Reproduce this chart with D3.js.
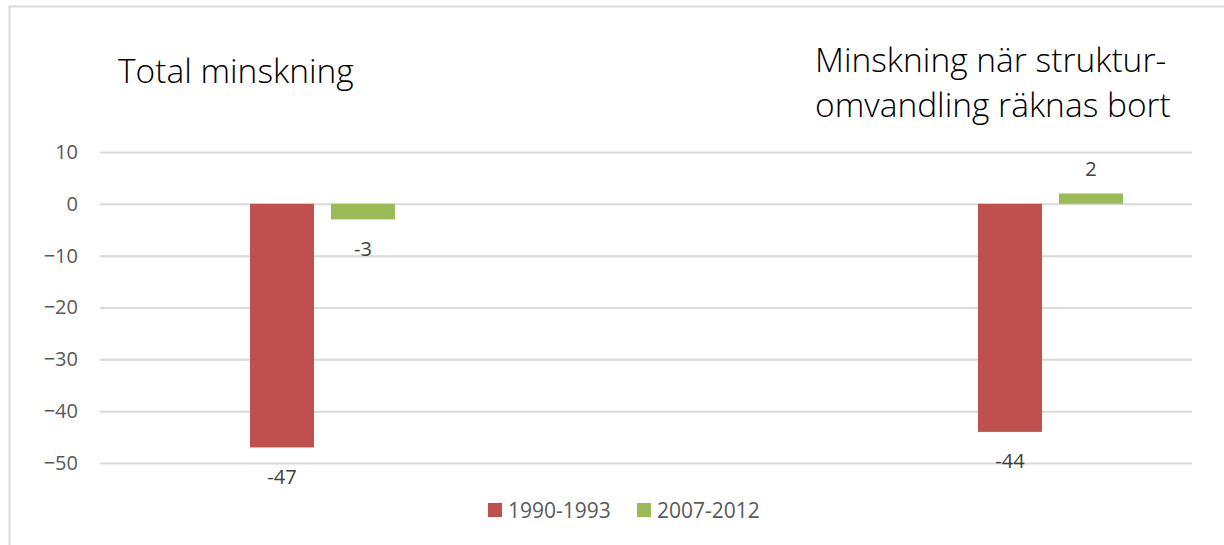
<!DOCTYPE html>
<html>
<head>
<meta charset="utf-8">
<script src="https://cdn.jsdelivr.net/npm/d3@7/dist/d3.min.js"></script>
<style>
  html, body { margin: 0; padding: 0; background: #fff; }
  svg { display: block; font-family: "Open Sans", "Noto Sans", sans-serif; }
</style>
</head>
<body>
<svg id="chart" width="1224" height="545"></svg>
<script>
// Category titles (each drawn above its bar group), series and axis ticks
const categories = ["Total minskning", "Minskning när struktur-\nomvandling räknas bort"];
const seriesNames = ["1990-1993", "2007-2012"];
const seriesColors = ["#C0504D", "#9BBB59"];
const values1990 = [-47, -44];
const values2007 = [-3, 2];
const yTicks = [10, 0, -10, -20, -30, -40, -50];

const svg = d3.select("#chart");
const W = 1224, H = 545;

// chart frame
svg.append("rect")
  .attr("x", 9.5).attr("y", 6.5)
  .attr("width", W).attr("height", H)
  .attr("fill", "#fff").attr("stroke", "#d9d9d9").attr("stroke-width", 2);

const plot = { left: 100, right: 1192 };

const y = d3.scaleLinear().domain([-50, 10]).range([463, 152]);

// group centres and series offsets within a group
const x0 = d3.scalePoint().domain(categories).range([322.5, 1050.5]);
const x1 = d3.scaleBand().domain(seriesNames).range([-72.5, 72.5]).paddingInner(0.21);

// gridlines + tick labels
const yAxis = d3.axisLeft(y)
  .tickValues(yTicks)
  .tickSize(-(plot.right - plot.left))
  .tickPadding(22)
  .tickFormat(d3.format("d"));

const gAxis = svg.append("g")
  .attr("transform", `translate(${plot.left},0)`)
  .call(yAxis);
gAxis.select(".domain").remove();
gAxis.selectAll(".tick line").attr("stroke", "#d9d9d9").attr("stroke-width", 2);
gAxis.selectAll(".tick text")
  .attr("fill", "#595959")
  .style("font-size", "20px")
  .style("font-family", "'Open Sans', sans-serif");

// bars
const rows = categories.map((c, i) => ({
  cat: c,
  vals: [
    { s: seriesNames[0], v: values1990[i] },
    { s: seriesNames[1], v: values2007[i] }
  ]
}));

const groups = svg.append("g").selectAll("g")
  .data(rows).join("g")
  .attr("transform", d => `translate(${x0(d.cat)},0)`);

groups.selectAll("rect")
  .data(d => d.vals).join("rect")
  .attr("x", d => x1(d.s))
  .attr("width", x1.bandwidth())
  .attr("y", d => y(Math.max(0, d.v)))
  .attr("height", d => Math.abs(y(d.v) - y(0)))
  .attr("fill", (d, i) => seriesColors[i]);

// value labels
groups.selectAll("text.val")
  .data(d => d.vals).join("text")
  .attr("class", "val")
  .attr("x", d => x1(d.s) + x1.bandwidth() / 2)
  .attr("y", d => d.v < 0 ? y(d.v) + 29 : y(d.v) - 25)
  .attr("text-anchor", "middle")
  .attr("dominant-baseline", "central")
  .attr("fill", "#404040")
  .style("font-size", "20px")
  .text(d => d.v);

// category titles
const titlePos = [{ x: 118, y: 83 }, { x: 815, y: 72 }];
categories.forEach((c, i) => {
  const t = svg.append("text")
    .attr("x", titlePos[i].x)
    .attr("y", titlePos[i].y)
    .attr("fill", "#000")
    .style("font-size", "33.5px")
    .style("font-weight", 300);
  c.split("\n").forEach((line, j) => {
    t.append("tspan")
      .attr("x", titlePos[i].x)
      .attr("dy", j === 0 ? 0 : 45)
      .text(line);
  });
});

// legend
const legendItems = [{ x: 488 }, { x: 637 }];
const legend = svg.append("g");
seriesNames.forEach((s, i) => {
  legend.append("rect")
    .attr("x", legendItems[i].x).attr("y", 503)
    .attr("width", 14).attr("height", 14)
    .attr("fill", seriesColors[i]);
  legend.append("text")
    .attr("x", legendItems[i].x + 20).attr("y", 510)
    .attr("dominant-baseline", "central")
    .attr("fill", "#595959")
    .style("font-size", "21px")
    .text(s);
});
</script>
</body>
</html>
